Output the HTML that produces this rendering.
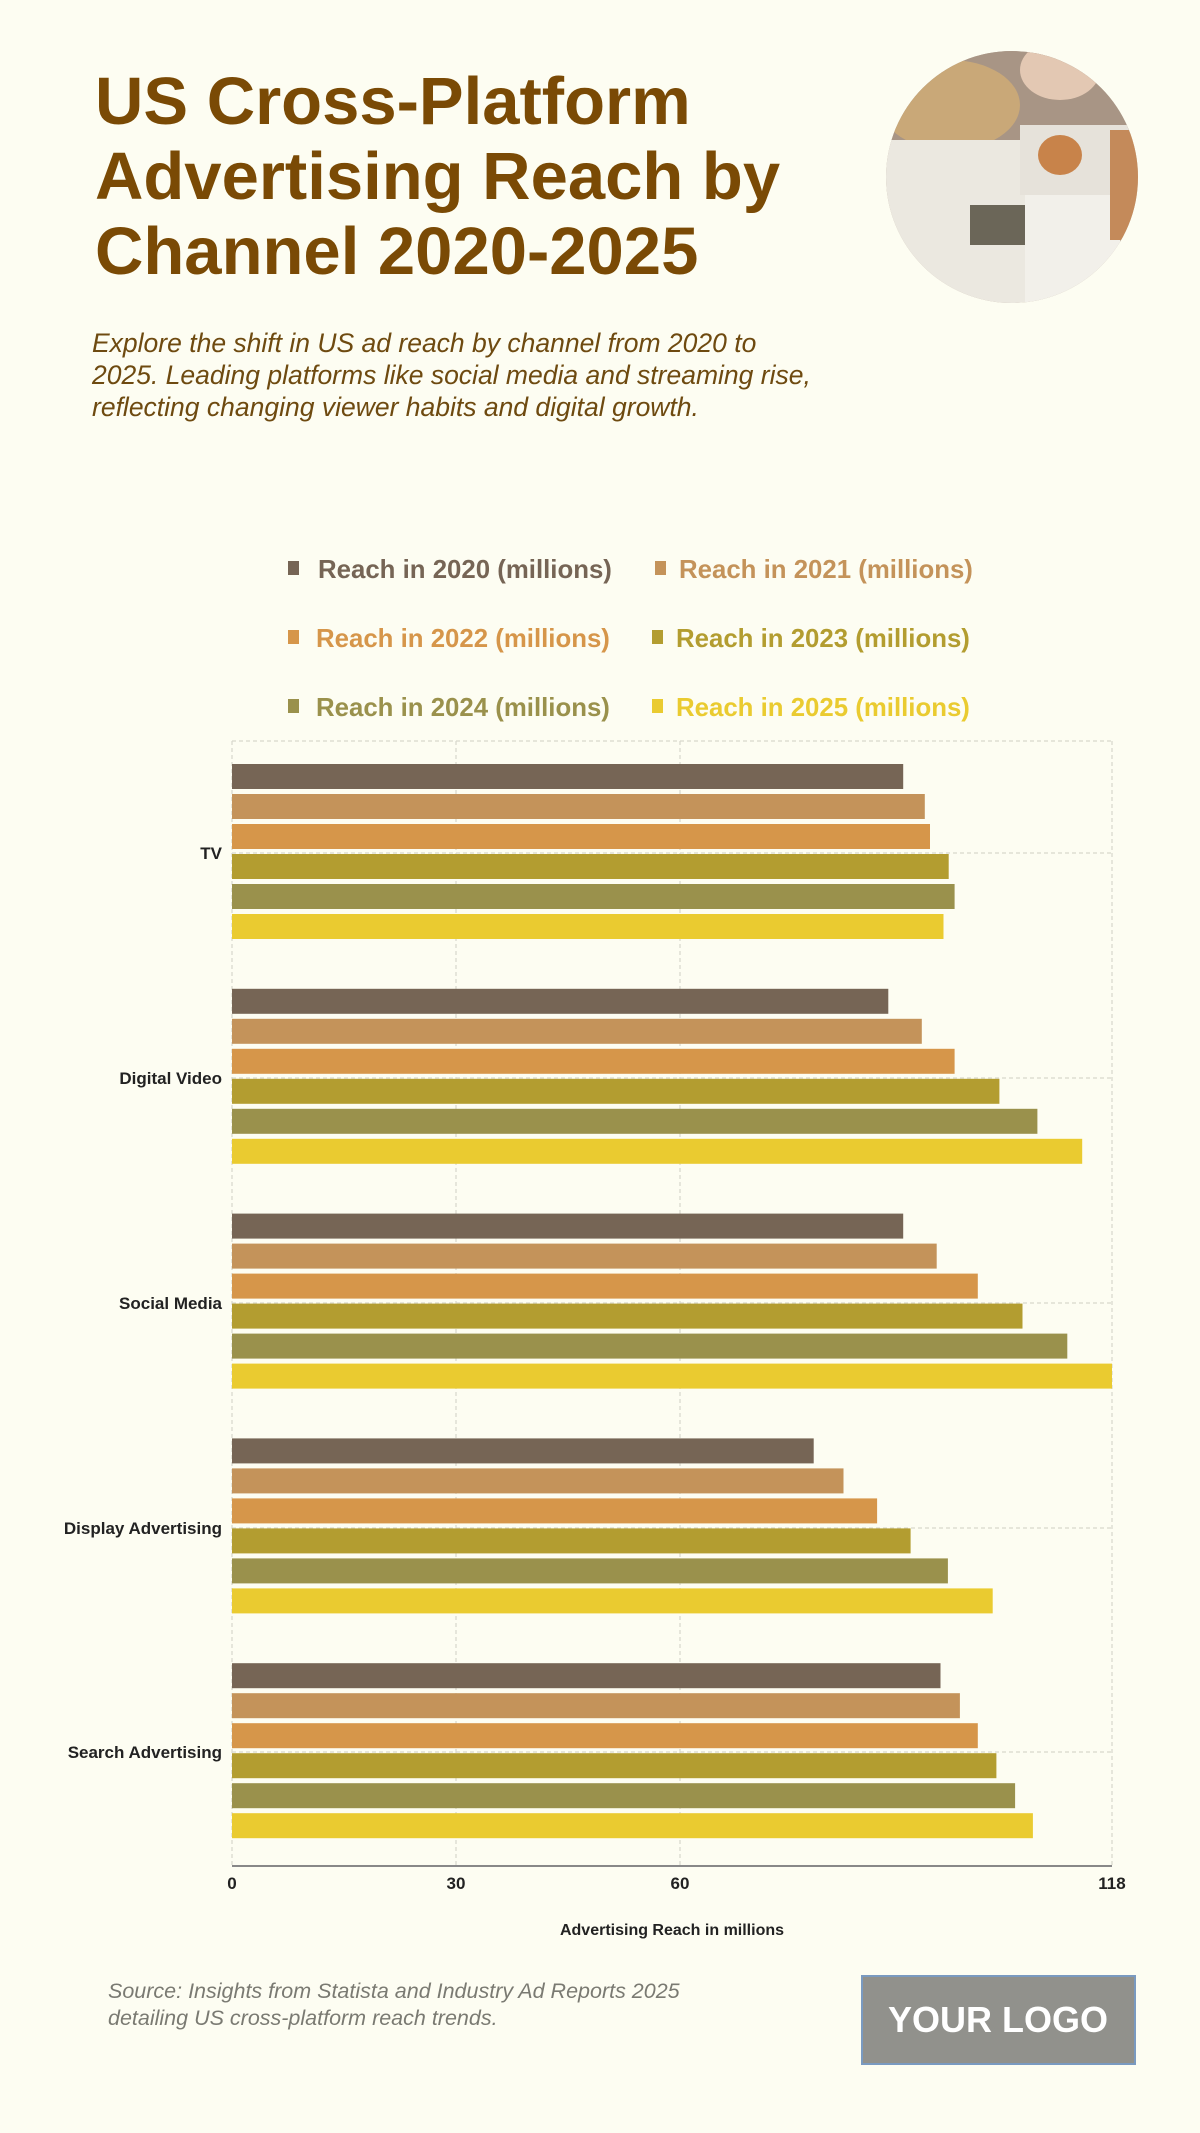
<!DOCTYPE html>
<html><head><meta charset="utf-8"><style>
html,body{margin:0;padding:0;background:#fdfdf2;}
body{width:1200px;height:2133px;position:relative;overflow:hidden;font-family:"Liberation Sans",sans-serif;}
.t{position:absolute;left:95px;top:64px;font-size:67px;font-weight:bold;line-height:75px;color:#7a4a05;margin:0;}
.s{position:absolute;left:92px;top:327px;font-size:26.5px;font-style:italic;line-height:32px;color:#6e4a10;}
</style></head><body>
<div class="t">US Cross-Platform<br>Advertising Reach by<br>Channel 2020-2025</div>
<div class="s">Explore the shift in US ad reach by channel from 2020 to<br>2025. Leading platforms like social media and streaming rise,<br>reflecting changing viewer habits and digital growth.</div>
<svg width="1200" height="2133" style="position:absolute;left:0;top:0" font-family="Liberation Sans, sans-serif">
<defs><clipPath id="c"><circle cx="1012" cy="177" r="126"/></clipPath></defs>
<g clip-path="url(#c)">
<rect x="880" y="50" width="270" height="260" fill="#b9a898"/>
<rect x="880" y="50" width="270" height="90" fill="#a89585"/>
<ellipse cx="950" cy="105" rx="70" ry="45" fill="#c9a878"/>
<ellipse cx="1060" cy="70" rx="40" ry="30" fill="#e3c8b3"/>
<rect x="885" y="140" width="140" height="170" fill="#ebe8e0"/>
<rect x="1020" y="125" width="130" height="70" fill="#e6e2da"/>
<rect x="1025" y="195" width="95" height="115" fill="#f2f0ea"/>
<rect x="970" y="205" width="55" height="40" fill="#6b6658"/>
<ellipse cx="1060" cy="155" rx="22" ry="20" fill="#c8834a"/>
<rect x="1110" y="130" width="40" height="110" fill="#c48a5a"/>
</g>
<g font-size="25.8" font-weight="bold">
<rect x="288" y="561" width="11" height="14" fill="#766555"/><text x="318" y="578" fill="#766555">Reach in 2020 (millions)</text>
<rect x="655" y="561" width="11" height="14" fill="#c4935a"/><text x="679" y="578" fill="#c4935a">Reach in 2021 (millions)</text>
<rect x="288" y="630" width="11" height="14" fill="#d6964a"/><text x="316" y="647" fill="#d6964a">Reach in 2022 (millions)</text>
<rect x="652" y="630" width="11" height="14" fill="#b39d30"/><text x="676" y="647" fill="#b39d30">Reach in 2023 (millions)</text>
<rect x="288" y="699" width="11" height="14" fill="#9a914c"/><text x="316" y="716" fill="#9a914c">Reach in 2024 (millions)</text>
<rect x="652" y="699" width="11" height="14" fill="#eacb30"/><text x="676" y="716" fill="#eacb30">Reach in 2025 (millions)</text>
</g>
<g stroke="#d8d8cc" stroke-dasharray="4,3" stroke-width="1.2">
<line x1="232" y1="741" x2="1112" y2="741"/>
<line x1="232" y1="741" x2="232" y2="1865"/>
<line x1="456" y1="741" x2="456" y2="1865"/>
<line x1="680" y1="741" x2="680" y2="1865"/>
<line x1="1112" y1="741" x2="1112" y2="1865"/>
<line x1="232" y1="853" x2="1112" y2="853"/>
<line x1="232" y1="1078" x2="1112" y2="1078"/>
<line x1="232" y1="1303" x2="1112" y2="1303"/>
<line x1="232" y1="1528" x2="1112" y2="1528"/>
<line x1="232" y1="1752" x2="1112" y2="1752"/>
</g>
<g id="bars"></g>
<line x1="232" y1="1866" x2="1112" y2="1866" stroke="#888" stroke-width="2"/>
<g font-size="17" font-weight="bold" fill="#222" text-anchor="end">
<text x="222" y="859">TV</text>
<text x="222" y="1084">Digital Video</text>
<text x="222" y="1309">Social Media</text>
<text x="222" y="1534">Display Advertising</text>
<text x="222" y="1758">Search Advertising</text>
</g>
<g font-size="17" font-weight="bold" fill="#222" text-anchor="middle">
<text x="232" y="1889">0</text><text x="456" y="1889">30</text><text x="680" y="1889">60</text><text x="1112" y="1889">118</text>
<text x="672" y="1935" font-size="16">Advertising Reach in millions</text>
</g>
<g font-size="21.5" font-style="italic" fill="#7a7a72">
<text x="108" y="1998">Source: Insights from Statista and Industry Ad Reports 2025</text>
<text x="108" y="2025">detailing US cross-platform reach trends.</text>
</g>
<rect x="862" y="1976" width="273" height="88" fill="#91918c" stroke="#7a9ac0" stroke-width="2"/>
<text x="998" y="2032" font-size="36" font-weight="bold" fill="#fff" text-anchor="middle">YOUR LOGO</text>
</svg>
<script>
var d=[[90,92.9,93.6,96.1,96.9,95.4],[88,92.5,96.9,102.9,108,114],[90,94.5,100,106,112,118],[78,82,86.5,91,96,102],[95,97.6,100,102.5,105,107.4]];
var c=["#766555","#c4935a","#d6964a","#b39d30","#9a914c","#eacb30"];
var g=document.getElementById("bars"),s="";
for(var i=0;i<5;i++)for(var j=0;j<6;j++){var y=741+i*224.8+23+j*30;var w=d[i][j]*880/118;
s+='<rect x="232" y="'+y.toFixed(1)+'" width="'+w.toFixed(1)+'" height="25" fill="'+c[j]+'"/>';}
g.innerHTML=s;
</script>
</body></html>
